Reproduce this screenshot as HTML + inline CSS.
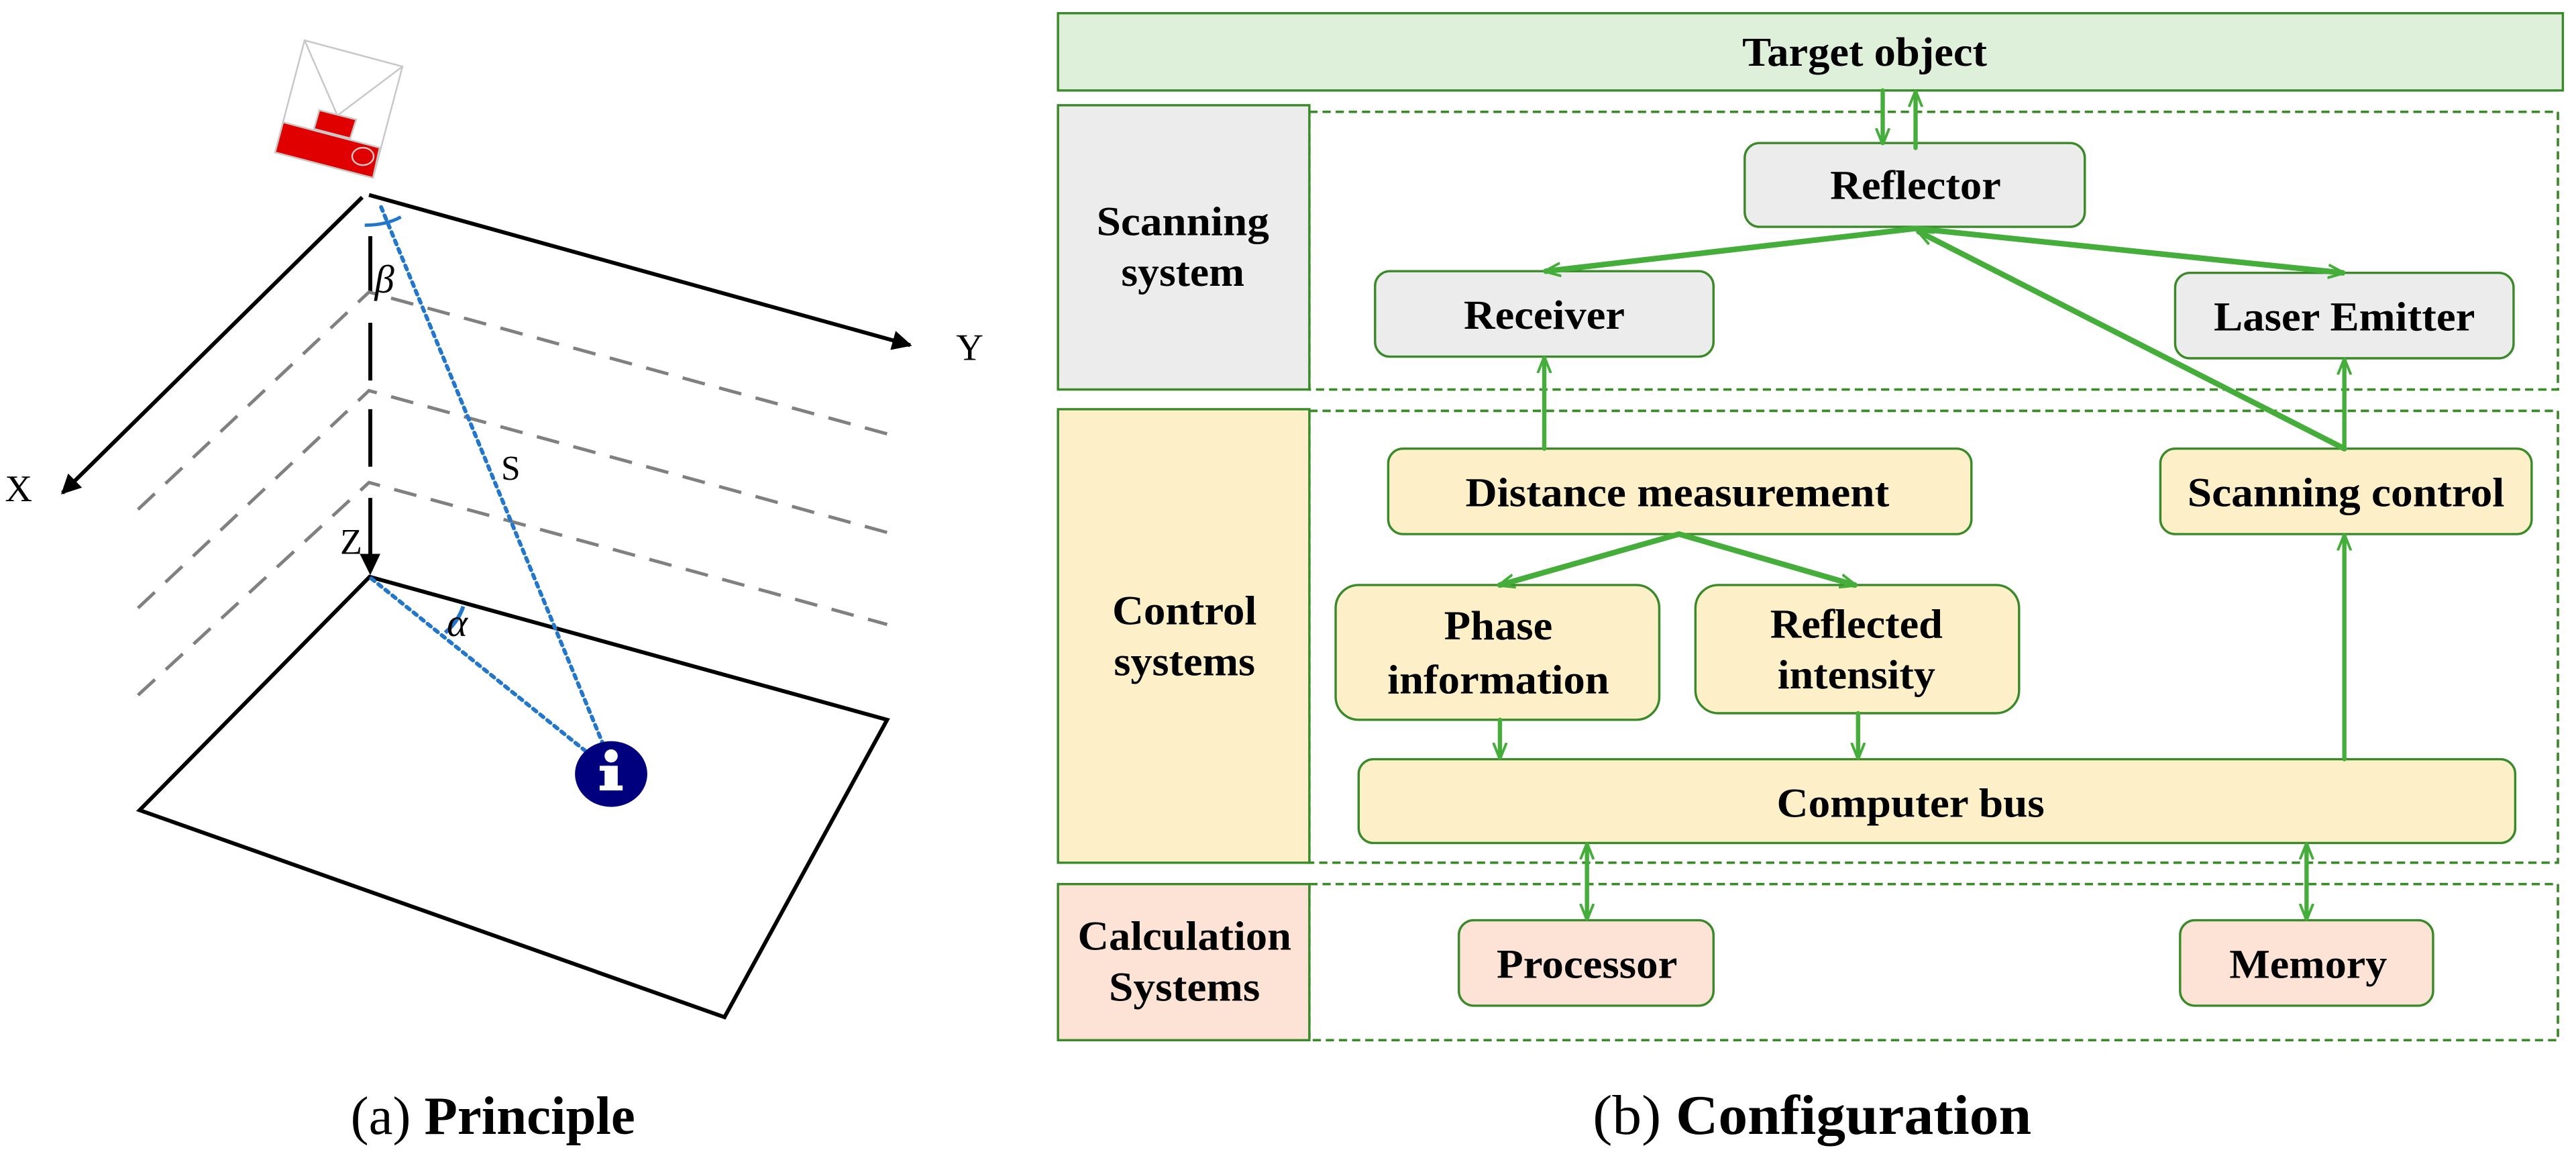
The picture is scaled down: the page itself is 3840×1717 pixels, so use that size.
<!DOCTYPE html>
<html><head><meta charset="utf-8"><style>
html,body{margin:0;padding:0;background:#fff;}
svg{display:block;}
.t{font-family:"Liberation Serif",serif;font-weight:bold;fill:#000;}
.bx{stroke:#3a8a2a;stroke-width:1.4;}
.ar{stroke:#45ae3b;fill:none;stroke-linecap:round;}
.dash{fill:none;stroke:#3a8a2a;stroke-width:1.5;stroke-dasharray:5,3;}
</style></head><body>
<svg width="3840" height="1717" viewBox="0 0 1568 701" xmlns="http://www.w3.org/2000/svg">
<defs>
<marker id="v" viewBox="0 0 10 10" refX="9" refY="5" markerWidth="10" markerHeight="10" orient="auto-start-reverse" markerUnits="userSpaceOnUse">
<path d="M0,1 L10,5 L0,9" fill="none" stroke="#45ae3b" stroke-width="1.6"/>
</marker>
<marker id="blk" viewBox="0 0 10 10" refX="9" refY="5" markerWidth="16" markerHeight="12" orient="auto" markerUnits="userSpaceOnUse">
<path d="M0,0 L10,5 L0,10 z" fill="#000"/>
</marker>
</defs>

<!-- ===== LEFT PANEL ===== -->
<g transform="scale(0.40833)">
<polygon points="454,60 600,99 556,265 410,227" fill="#fff" stroke="#c8c8c8" stroke-width="2.5"/>
<polyline points="454,60 503,172 600,99" fill="none" stroke="#c8c8c8" stroke-width="2.5"/>
<polygon points="422,182 566,220 556,265 410,227" fill="#e00000" stroke="#c8c8c8" stroke-width="2.5"/>
<polygon points="476,164 531,178 522,206 468,192" fill="#e00000" stroke="#c8c8c8" stroke-width="2.5"/>
<ellipse cx="541" cy="233" rx="16" ry="13" fill="none" stroke="#c8c8c8" stroke-width="2.5"/>
</g>
<line x1="220.5" y1="120" x2="38" y2="300" stroke="#000" stroke-width="2.4" marker-end="url(#blk)"/>
<line x1="224.6" y1="118.6" x2="554" y2="210" stroke="#000" stroke-width="2.4" marker-end="url(#blk)"/>
<text x="582" y="219" font-family="Liberation Serif,serif" font-size="23">Y</text>
<text x="3" y="305" font-family="Liberation Serif,serif" font-size="23">X</text>
<g stroke="#000" stroke-width="2.4">
<line x1="225.4" y1="143.7" x2="225.4" y2="177.6"/>
<line x1="225.4" y1="196.4" x2="225.4" y2="231.5"/>
<line x1="225.4" y1="249" x2="225.4" y2="284"/>
<line x1="225.4" y1="303" x2="225.4" y2="337"/>
</g>
<polygon points="219,337 231.5,337 225.4,350" fill="#000"/>
<text x="207" y="337" font-family="Liberation Serif,serif" font-size="22">Z</text>
<g stroke="#808080" stroke-width="2" stroke-dasharray="14,9" fill="none">
<polyline points="84,310 224.6,177.7 540,264"/>
<polyline points="84,370 224.6,237.7 540,324"/>
<polyline points="84,423 224.6,293.6 540,380"/>
</g>
<polygon points="225,351 540,438 441,619 85,493" fill="none" stroke="#000" stroke-width="2.4"/>
<g stroke="#2277cc" stroke-width="2.4" stroke-dasharray="2.5,3" stroke-linecap="round" fill="none">
<line x1="232" y1="126" x2="375" y2="472"/>
<line x1="226" y1="352" x2="375" y2="472"/>
</g>
<path d="M222,137 Q235,137 244,132" stroke="#2277cc" stroke-width="2" fill="none"/>
<path d="M271,385 Q279,378 282,369" stroke="#2277cc" stroke-width="2.4" fill="none"/>
<text x="228" y="178" font-family="Liberation Serif,serif" font-size="24" font-style="italic">β</text>
<text x="272" y="387" font-family="Liberation Serif,serif" font-size="24" font-style="italic">α</text>
<text x="305" y="292" font-family="Liberation Serif,serif" font-size="21">S</text>
<ellipse cx="372" cy="471" rx="22" ry="20" fill="#00007f"/>
<circle cx="372" cy="460" r="4" fill="#fff"/>
<rect x="368" y="466" width="8" height="14" fill="#fff"/>
<rect x="365" y="478" width="14" height="3" fill="#fff"/>
<rect x="365" y="466" width="6" height="3" fill="#fff"/>
<text x="300" y="690" text-anchor="middle" font-family="Liberation Serif,serif" font-size="33"><tspan>(a) </tspan><tspan font-weight="bold">Principle</tspan></text>

<!-- ===== RIGHT PANEL ===== -->
<rect x="644" y="8" width="916" height="47" fill="#dff0da" class="bx"/>
<text class="t" x="1135" y="40" text-anchor="middle" font-size="25" textLength="149" lengthAdjust="spacingAndGlyphs">Target object</text>

<rect x="797" y="68" width="760" height="169" class="dash"/>
<rect x="797" y="250" width="760" height="275" class="dash"/>
<rect x="797" y="538" width="760" height="95" class="dash"/>

<rect x="644" y="64" width="153" height="173" fill="#ececec" class="bx"/>
<rect x="644" y="249" width="153" height="276" fill="#fdf0c8" class="bx"/>
<rect x="644" y="538" width="153" height="95" fill="#fde3d6" class="bx"/>
<text class="t" x="720" y="143" text-anchor="middle" font-size="25" textLength="105" lengthAdjust="spacingAndGlyphs">Scanning</text>
<text class="t" x="720" y="174" text-anchor="middle" font-size="25" textLength="75" lengthAdjust="spacingAndGlyphs">system</text>
<text class="t" x="721" y="380" text-anchor="middle" font-size="25" textLength="88" lengthAdjust="spacingAndGlyphs">Control</text>
<text class="t" x="721" y="411" text-anchor="middle" font-size="25" textLength="86" lengthAdjust="spacingAndGlyphs">systems</text>
<text class="t" x="721" y="578" text-anchor="middle" font-size="25" textLength="130" lengthAdjust="spacingAndGlyphs">Calculation</text>
<text class="t" x="721" y="609" text-anchor="middle" font-size="25" textLength="92" lengthAdjust="spacingAndGlyphs">Systems</text>

<rect x="1062" y="87" width="207" height="51" rx="9" fill="#ececec" class="bx"/>
<text class="t" x="1166" y="121" text-anchor="middle" font-size="25" textLength="104" lengthAdjust="spacingAndGlyphs">Reflector</text>
<rect x="837" y="165" width="206" height="52" rx="9" fill="#ececec" class="bx"/>
<text class="t" x="940" y="200" text-anchor="middle" font-size="25" textLength="98" lengthAdjust="spacingAndGlyphs">Receiver</text>
<rect x="1324" y="166" width="206" height="52" rx="9" fill="#ececec" class="bx"/>
<text class="t" x="1427" y="201" text-anchor="middle" font-size="25" textLength="159" lengthAdjust="spacingAndGlyphs">Laser Emitter</text>

<rect x="845" y="273" width="355" height="52" rx="9" fill="#fdf0c8" class="bx"/>
<text class="t" x="1021" y="308" text-anchor="middle" font-size="25" textLength="258" lengthAdjust="spacingAndGlyphs">Distance measurement</text>
<rect x="1315" y="273" width="226" height="52" rx="9" fill="#fdf0c8" class="bx"/>
<text class="t" x="1428" y="308" text-anchor="middle" font-size="25" textLength="193" lengthAdjust="spacingAndGlyphs">Scanning control</text>

<rect x="813" y="356" width="197" height="82" rx="14" fill="#fdf0c8" class="bx"/>
<text class="t" x="912" y="389" text-anchor="middle" font-size="25" textLength="66" lengthAdjust="spacingAndGlyphs">Phase</text>
<text class="t" x="912" y="422" text-anchor="middle" font-size="25" textLength="135" lengthAdjust="spacingAndGlyphs">information</text>
<rect x="1032" y="356" width="197" height="78" rx="14" fill="#fdf0c8" class="bx"/>
<text class="t" x="1130" y="388" text-anchor="middle" font-size="25" textLength="105" lengthAdjust="spacingAndGlyphs">Reflected</text>
<text class="t" x="1130" y="419" text-anchor="middle" font-size="25" textLength="96" lengthAdjust="spacingAndGlyphs">intensity</text>

<rect x="827" y="462" width="704" height="51" rx="9" fill="#fdf0c8" class="bx"/>
<text class="t" x="1163" y="497" text-anchor="middle" font-size="25" textLength="163" lengthAdjust="spacingAndGlyphs">Computer bus</text>

<rect x="888" y="560" width="155" height="52" rx="9" fill="#fde3d6" class="bx"/>
<text class="t" x="966" y="595" text-anchor="middle" font-size="25" textLength="110" lengthAdjust="spacingAndGlyphs">Processor</text>
<rect x="1327" y="560" width="154" height="52" rx="9" fill="#fde3d6" class="bx"/>
<text class="t" x="1405" y="595" text-anchor="middle" font-size="25" textLength="96" lengthAdjust="spacingAndGlyphs">Memory</text>

<g class="ar" stroke-width="2.6">
<line x1="1146" y1="55" x2="1146" y2="87" marker-end="url(#v)"/>
<line x1="1166" y1="90" x2="1166" y2="56" marker-end="url(#v)"/>
<line x1="940" y1="273" x2="940" y2="218" marker-end="url(#v)"/>
<line x1="1427" y1="273" x2="1427" y2="219" marker-end="url(#v)"/>
<line x1="913" y1="438" x2="913" y2="461" marker-end="url(#v)"/>
<line x1="1131" y1="434" x2="1131" y2="461" marker-end="url(#v)"/>
<line x1="1427" y1="462" x2="1427" y2="326" marker-end="url(#v)"/>
<line x1="966" y1="514" x2="966" y2="559" marker-start="url(#v)" marker-end="url(#v)"/>
<line x1="1404" y1="514" x2="1404" y2="559" marker-start="url(#v)" marker-end="url(#v)"/>
</g>
<g class="ar" stroke-width="3.4">
<line x1="1166" y1="139" x2="941" y2="165" marker-end="url(#v)"/>
<line x1="1166" y1="139" x2="1426" y2="166" marker-end="url(#v)"/>
<line x1="1427" y1="273" x2="1168" y2="141" marker-end="url(#v)"/>
<line x1="1022" y1="325" x2="913" y2="356" marker-end="url(#v)"/>
<line x1="1022" y1="325" x2="1129" y2="356" marker-end="url(#v)"/>
</g>

<text x="1103" y="690" text-anchor="middle" font-family="Liberation Serif,serif" font-size="34" textLength="267" lengthAdjust="spacingAndGlyphs"><tspan>(b) </tspan><tspan font-weight="bold">Configuration</tspan></text>
</svg>
</body></html>
